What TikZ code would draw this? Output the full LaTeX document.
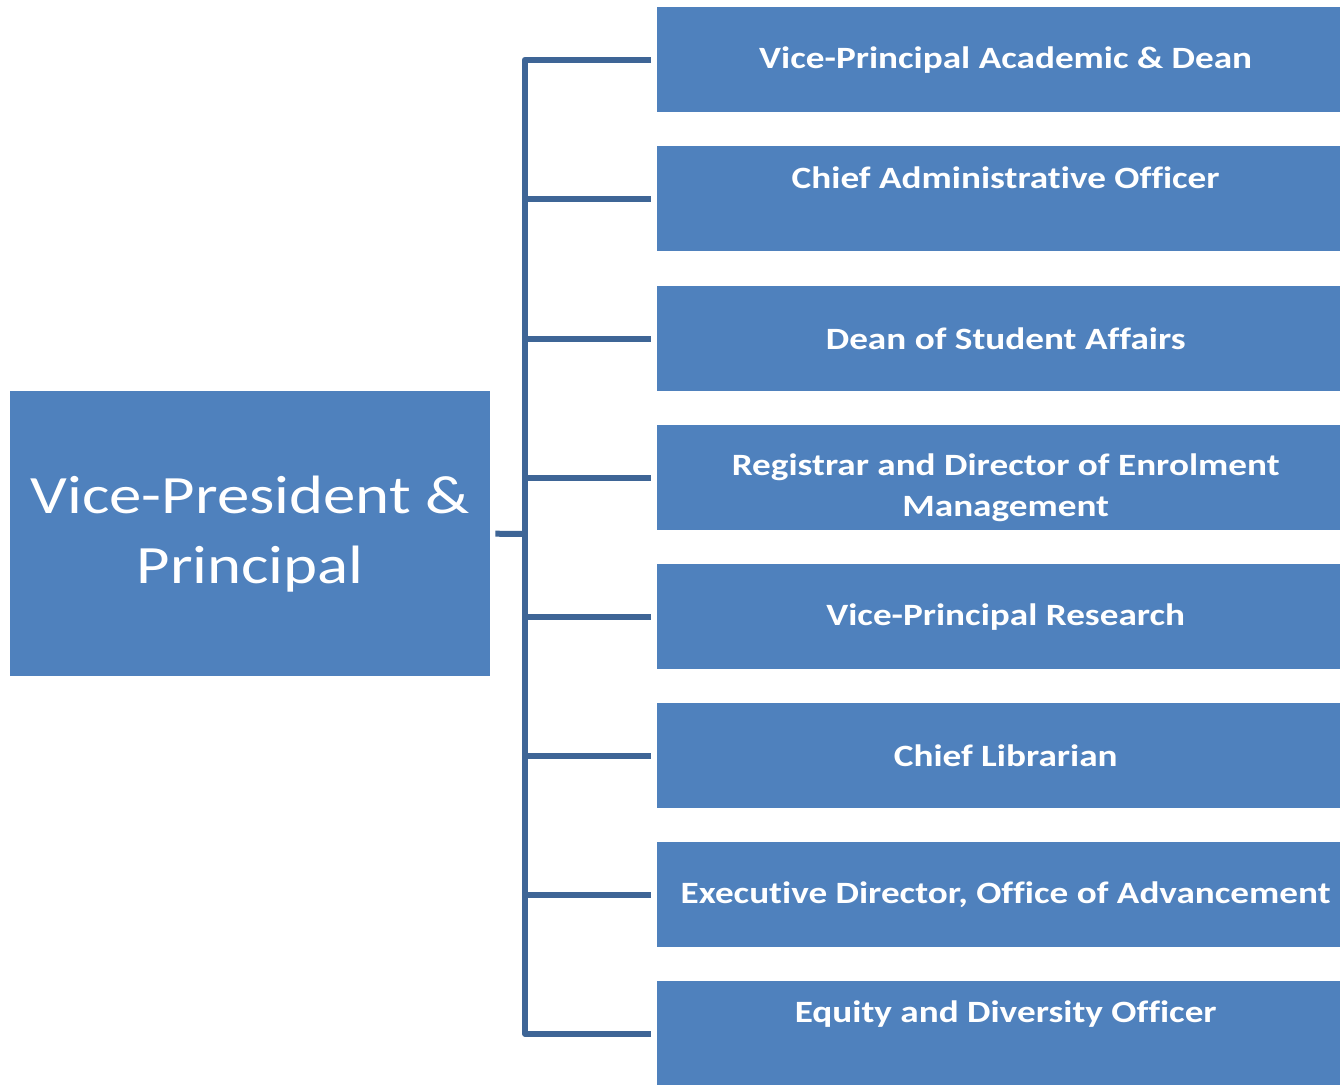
\documentclass[tikz,border=0pt]{standalone}
\usepackage{fontspec}
\setmainfont[FakeStretch=1.2,Ligatures=CommonOff]{Carlito}
\definecolor{boxblue}{RGB}{79,129,189}
\definecolor{lineblue}{RGB}{62,101,150}
\begin{document}
\begin{tikzpicture}[x=1pt,y=-1pt,
  childfont/.style={text=white,font=\fontsize{31}{41}\selectfont\bfseries,align=center},
  child/.style={fill=boxblue,draw=none,minimum width=697pt,minimum height=105pt,anchor=north west,inner sep=0pt,
    childfont},
  conn/.style={draw=lineblue,line width=6pt,line join=round}]
\useasboundingbox (0,0) rectangle (1340,1084);
\clip (0,0) rectangle (1340,1084);
\fill[white] (0,0) rectangle (1340,1084);
\node[fill=boxblue,minimum width=480pt,minimum height=285pt,anchor=north west,inner sep=0pt,text=white,
  font=\fontsize{54}{70}\selectfont,align=center] (vp) at (10,391) {Vice-President \&\\Principal};
\node[child] (c1) at (657,7) {Vice-Principal Academic \& Dean};
\node[child,label={[childfont,yshift=21pt]center:Chief Administrative Officer}] (c2) at (657,146) {};
\node[child] (c3) at (657,286) {Dean of Student Affairs};
\node[child,label={[childfont,yshift=-10pt]center:Registrar and Director of Enrolment\\Management}] (c4) at (657,425) {};
\node[child] (c5) at (657,564) {Vice-Principal Research};
\node[child] (c6) at (657,703) {Chief Librarian};
\node[child] (c7) at (657,842) {Executive Director, Office of Advancement};
\node[child,label={[childfont,yshift=20pt]center:Equity and Diversity Officer}] (c8) at (657,981) {};
\coordinate (bus) at (525,534);
\draw[conn] ([xshift=5pt]vp.east) -- (bus);
\draw[conn] ([xshift=-6pt]c1.west) -| (bus) |- ([xshift=-6pt]c8.west);
\foreach \c in {c2,c3,c4,c5,c6,c7}{
  \draw[conn] (bus |- \c.west) -- ([xshift=-6pt]\c.west);
}
\end{tikzpicture}
\end{document}
